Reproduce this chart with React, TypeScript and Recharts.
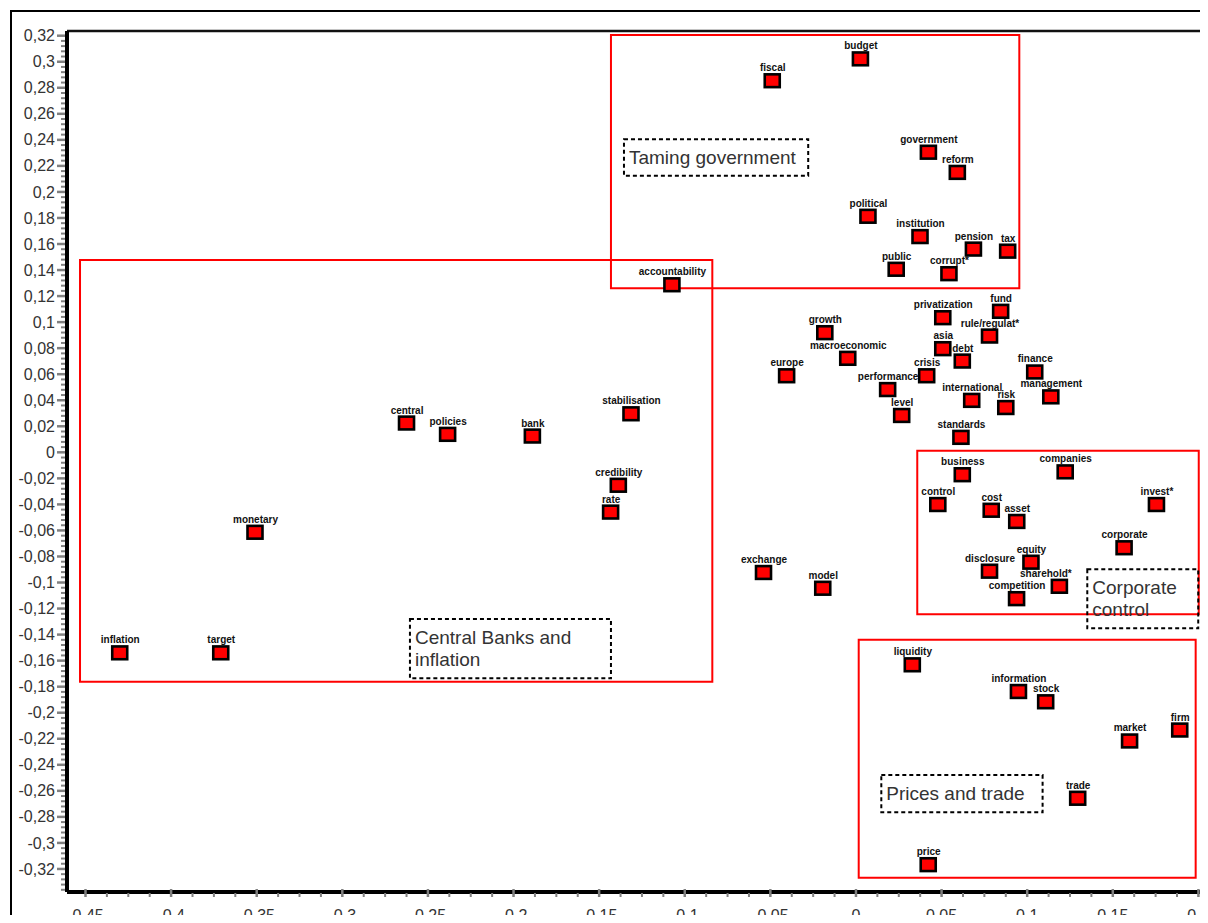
import React from 'react';
import { ScatterChart, Scatter, XAxis, YAxis, ReferenceArea, ReferenceLine } from 'recharts';

// ---- data ----
const words = [
  'inflation', 'target', 'monetary', 'central', 'policies', 'bank', 'stabilisation', 'credibility', 'rate',
  'accountability', 'fiscal', 'budget', 'government', 'reform', 'political', 'institution', 'pension', 'tax',
  'public', 'corrupt*', 'fund', 'privatization', 'rule/regulat*', 'growth', 'asia', 'debt', 'macroeconomic',
  'europe', 'crisis', 'finance', 'performance', 'management', 'international', 'risk', 'level', 'standards',
  'business', 'companies', 'control', 'invest*', 'cost', 'asset', 'corporate', 'equity', 'disclosure',
  'sharehold*', 'competition', 'exchange', 'model', 'liquidity', 'information', 'stock', 'firm', 'market',
  'trade', 'price',
];
const xValues = [
  -0.430, -0.371, -0.351, -0.2625, -0.2385, -0.189, -0.1314, -0.1388, -0.1433,
  -0.1075, -0.0489, 0.0026, 0.0423, 0.0592, 0.0070, 0.0374, 0.0686, 0.0886,
  0.0235, 0.0543, 0.0845, 0.0507, 0.0780, -0.0182, 0.0507, 0.0621, -0.0048,
  -0.0405, 0.0413, 0.1044, 0.0185, 0.1138, 0.0676, 0.0875, 0.0267, 0.0613,
  0.0621, 0.1222, 0.0478, 0.1755, 0.0790, 0.0939, 0.1566, 0.1022, 0.0780,
  0.1188, 0.0938, -0.0540, -0.0194, 0.0329, 0.0949, 0.1108, 0.1891, 0.1598,
  0.1295, 0.0422,
];
const yValues = [
  -0.154, -0.154, -0.0614, 0.0225, 0.0138, 0.0125, 0.0296, -0.0253, -0.0459,
  0.1287, 0.2854, 0.3022, 0.2305, 0.2150, 0.1813, 0.1657, 0.1561, 0.1545,
  0.1406, 0.1372, 0.1083, 0.1034, 0.0893, 0.0919, 0.0796, 0.0701, 0.0722,
  0.0588, 0.0588, 0.0617, 0.0482, 0.0426, 0.0399, 0.0344, 0.0283, 0.0115,
  -0.0172, -0.0150, -0.0401, -0.0401, -0.0445, -0.0531, -0.0733, -0.0844, -0.0913,
  -0.1029, -0.1124, -0.0923, -0.1044, -0.1632, -0.1837, -0.1916, -0.2133, -0.2217,
  -0.2657, -0.3167,
];

// cluster regions (red frames)
const regionX1 = [-0.4532, -0.1431, 0.0358, 0.0016];
const regionX2 = [-0.0839, 0.0954, 0.2002, 0.1984];
const regionY1 = [-0.1762, 0.1260, -0.1244, -0.3267];
const regionY2 = [0.1477, 0.3205, 0.0012, -0.1439];

// cluster captions (dashed boxes)
const captionLines = [['Central Banks and', 'inflation'], ['Taming government'], ['Corporate', 'control'], ['Prices and trade']];
const captionX1 = [-0.2605, -0.1355, 0.1351, 0.0148];
const captionX2 = [-0.1431, -0.0279, 0.1999, 0.1090];
const captionY1 = [-0.1736, 0.2124, -0.1352, -0.2765];
const captionY2 = [-0.1280, 0.2404, -0.0899, -0.2478];

const xMajorTicks = [-0.45, -0.4, -0.35, -0.3, -0.25, -0.2, -0.15, -0.1, -0.05, 0, 0.05, 0.1, 0.15, 0.2];
const yMajorTicks = [-0.32, -0.3, -0.28, -0.26, -0.24, -0.22, -0.2, -0.18, -0.16, -0.14, -0.12, -0.1, -0.08, -0.06,
  -0.04, -0.02, 0, 0.02, 0.04, 0.06, 0.08, 0.1, 0.12, 0.14, 0.16, 0.18, 0.2, 0.22, 0.24, 0.26, 0.28, 0.3, 0.32];

const X_DOMAIN: [number, number] = [-0.4608, 0.2021];
const Y_DOMAIN: [number, number] = [-0.3377, 0.3236];

// label horizontal nudges (layout only)
const labelShift: Record<string, number> = { 'sharehold*': -14 };

// ---- derived ----
const points = words.map((name, i) => ({ name, x: xValues[i], y: yValues[i] }));

const xMinor: number[] = [];
for (let i = 0; i < xMajorTicks.length - 1; i++) {
  for (let k = 1; k < 4; k++) xMinor.push(+(xMajorTicks[i] + (k * 0.05) / 4).toFixed(4));
}
const yMinor: number[] = [];
for (let i = 0; i < yMajorTicks.length - 1; i++) {
  for (let k = 1; k < 5; k++) yMinor.push(+(yMajorTicks[i] + (k * 0.02) / 5).toFixed(4));
}
for (let k = 1; k < 5; k++) yMinor.push(+(-0.32 - (k * 0.02) / 5).toFixed(4));
const xTicks = [...xMajorTicks, ...xMinor].sort((a, b) => a - b);
const yTicks = [...yMajorTicks, ...yMinor].sort((a, b) => a - b);

const FONT = '"Liberation Sans", Arial, Helvetica, sans-serif';
const fmt = (v: number) => String(+v.toFixed(2)).replace('.', ',');
const isMajorX = (v: number) => xMajorTicks.some((t) => Math.abs(t - v) < 1e-6);
const isMajorY = (v: number) => yMajorTicks.some((t) => Math.abs(t - v) < 1e-6);

const XTick = (props: any) => {
  const { x, y, payload } = props;
  const v = payload.value;
  if (isMajorX(v)) {
    return (
      <g>
        <line x1={x} x2={x} y1={y - 3} y2={y + 5} stroke="#808080" strokeWidth={2.5} />
        <text x={x} y={y + 29} textAnchor="middle" fontSize={16} fill="#333" fontFamily={FONT}>{fmt(v)}</text>
      </g>
    );
  }
  return <line x1={x} x2={x} y1={y + 1} y2={y + 5} stroke="#808080" strokeWidth={2} />;
};

const YTick = (props: any) => {
  const { x, y, payload } = props;
  const v = payload.value;
  if (isMajorY(v)) {
    return (
      <g>
        <line x1={x - 10} x2={x - 2} y1={y} y2={y} stroke="#808080" strokeWidth={2.5} />
        <text x={x - 12} y={y} dy="0.35em" textAnchor="end" fontSize={16} fill="#333" fontFamily={FONT}>{fmt(v)}</text>
      </g>
    );
  }
  return <line x1={x - 6} x2={x - 2} y1={y} y2={y} stroke="#808080" strokeWidth={2} />;
};

const Marker = (props: any) => {
  const { cx, cy, payload } = props;
  const dx = (labelShift[payload.name] || 0) + 0.5;
  return (
    <g>
      <rect x={cx - 7.5} y={cy - 6.4} width={15} height={12.8} fill="#ff0000" stroke="#000" strokeWidth={2.6} />
      <text x={cx + dx} y={cy - 9.5} textAnchor="middle" fontSize={10} fontWeight="bold" fill="#111" fontFamily={FONT}>
        {payload.name}
      </text>
    </g>
  );
};

const makeCaption = (lines: string[]) => (props: any) => {
  const { x, y, width, height } = props;
  return (
    <g>
      <rect x={x} y={y} width={width} height={height} fill="none" stroke="#000" strokeWidth={2} strokeDasharray="4 3" />
      {lines.map((l, i) => (
        <text key={i} x={x + 5} y={y + 25 + i * 22} fontSize={19} fill="#333" fontFamily={FONT}>{l}</text>
      ))}
    </g>
  );
};

export default function App() {
  return (
    <div style={{ position: 'relative', width: 1200, height: 907 }}>
      <div
        style={{
          position: 'absolute',
          left: 2,
          top: 2,
          width: 1198,
          height: 913,
          borderLeft: '2px solid #000',
          borderTop: '2px solid #000',
          boxSizing: 'border-box',
        }}
      />
      <div style={{ position: 'absolute', left: 0, top: 0, width: 1200, height: 915 }}>
        <ScatterChart width={1200} height={915} margin={{ top: 23, right: 6, left: 0, bottom: 0 }} style={{ overflow: 'visible' }}>
          <XAxis
            type="number"
            dataKey="x"
            domain={X_DOMAIN}
            ticks={xTicks}
            interval={0}
            height={31}
            tickSize={0}
            tickMargin={0}
            tickLine={false}
            axisLine={{ stroke: '#000', strokeWidth: 4 }}
            tick={<XTick />}
            allowDataOverflow
          />
          <YAxis
            type="number"
            dataKey="y"
            domain={Y_DOMAIN}
            ticks={yTicks}
            interval={0}
            width={59}
            tickSize={0}
            tickMargin={0}
            tickLine={false}
            axisLine={{ stroke: '#000', strokeWidth: 4 }}
            tick={<YTick />}
            allowDataOverflow
          />
          <ReferenceLine y={Y_DOMAIN[1]} stroke="#111" strokeWidth={2.5} />
          <ReferenceLine x={X_DOMAIN[1]} stroke="#000" strokeWidth={4} />
          {regionX1.map((_, i) => (
            <ReferenceArea
              key={'r' + i}
              x1={regionX1[i]}
              x2={regionX2[i]}
              y1={regionY1[i]}
              y2={regionY2[i]}
              fill="none"
              fillOpacity={0}
              stroke="#ff0000"
              strokeWidth={2}
              ifOverflow="visible"
            />
          ))}
          {captionLines.map((lines, i) => (
            <ReferenceArea
              key={'c' + i}
              x1={captionX1[i]}
              x2={captionX2[i]}
              y1={captionY1[i]}
              y2={captionY2[i]}
              ifOverflow="visible"
              shape={makeCaption(lines)}
            />
          ))}
          <Scatter data={points} shape={<Marker />} isAnimationActive={false} />
        </ScatterChart>
      </div>
    </div>
  );
}
